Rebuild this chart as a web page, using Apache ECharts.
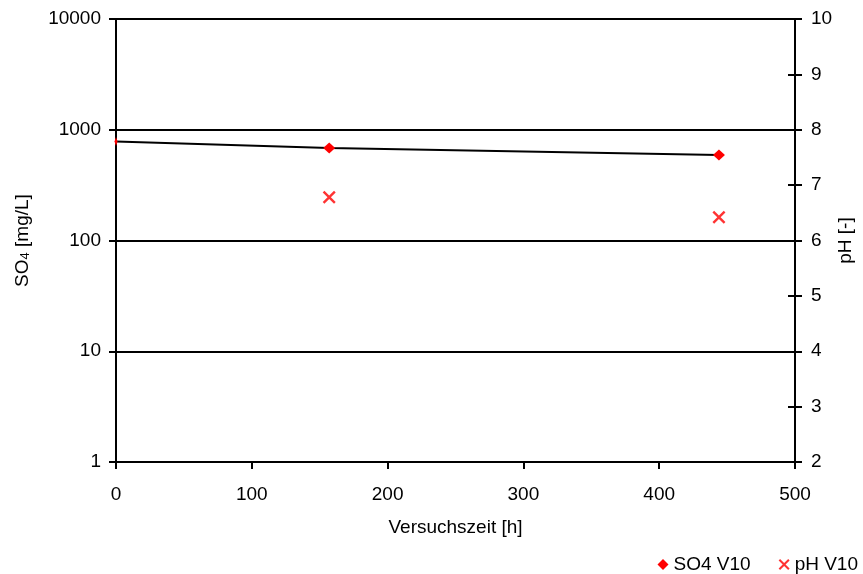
<!DOCTYPE html>
<html>
<head>
<meta charset="utf-8">
<script src="https://cdn.jsdelivr.net/npm/echarts@6/dist/echarts.min.js"></script>
<style>html,body{margin:0;padding:0;background:#fff}#c{width:863px;height:574px}</style>
</head>
<body>
<div id="c"></div>
<script>
// Data
const so4Time = [0, 157, 444];          // Versuchszeit [h]
const so4Values = [785, 684, 592];      // SO4 [mg/L]
const phTime = [157, 444];
const phValues = [6.78, 6.42];          // pH [-]
const xTicks = [0, 100, 200, 300, 400, 500];
const leftTicks = [1, 10, 100, 1000, 10000];
const rightTicks = [2, 3, 4, 5, 6, 7, 8, 9, 10];

const FONT = 'Liberation Sans, Arial, sans-serif';
const FS = 19;
const xPath = 'path://M0,1.3L1.3,0L5,3.7L8.7,0L10,1.3L6.3,5L10,8.7L8.7,10L5,6.3L1.3,10L0,8.7L3.7,5Z';

const chart = echarts.init(document.getElementById('c'), null, {renderer: 'canvas'});

const so4Data = so4Time.map((t, i) => {
  const item = {value: [t, so4Values[i]]};
  if (t === xTicks[0]) item.symbolSize = [3, 9]; // marker partly hidden at axis
  return item;
});

const option = {
  animation: false,
  backgroundColor: '#fff',
  textStyle: {fontFamily: FONT, color: '#000'},
  grid: {left: 116, right: 68, top: 19, bottom: 112, containLabel: false, outerBoundsMode: 'none'},
  legend: {
    right: 0, bottom: -5,
    itemWidth: 11, itemHeight: 11, itemGap: 28,
    textStyle: {fontFamily: FONT, fontSize: FS, color: '#000'},
    data: [
      {name: 'SO4 V10', icon: 'diamond', itemStyle: {color: '#ff0000'}},
      {name: 'pH V10', icon: xPath, itemStyle: {color: '#ff0000'}}
    ]
  },
  xAxis: {
    type: 'value', min: xTicks[0], max: xTicks[xTicks.length - 1], interval: 100,
    name: 'Versuchszeit [h]', nameLocation: 'middle', nameGap: 56,
    nameTextStyle: {fontFamily: FONT, fontSize: FS, color: '#000'},
    axisLine: {show: true, onZero: false, lineStyle: {color: '#000', width: 2}},
    axisTick: {show: true, length: 7, lineStyle: {color: '#000', width: 2}},
    axisLabel: {fontFamily: FONT, fontSize: FS, color: '#000', margin: 23},
    splitLine: {show: false}
  },
  yAxis: [
    {
      type: 'log', logBase: 10, min: leftTicks[0], max: leftTicks[leftTicks.length - 1],
      position: 'left',
      name: '{a|SO}{b|4}{a| [mg/L]}', nameLocation: 'middle', nameGap: 84, nameRotate: 90,
      nameMoveOverlap: false,
      nameTextStyle: {
        fontFamily: FONT, fontSize: FS, color: '#000',
        rich: {
          a: {fontFamily: FONT, fontSize: FS, color: '#000'},
          b: {fontFamily: FONT, fontSize: 13, color: '#000', padding: [6, 0, 0, 0]}
        }
      },
      axisLine: {show: true, lineStyle: {color: '#000', width: 2}},
      axisTick: {show: true, length: 7, lineStyle: {color: '#000', width: 2}},
      axisLabel: {fontFamily: FONT, fontSize: FS, color: '#000', margin: 15,
                  formatter: v => String(Math.round(v))},
      splitLine: {show: true, lineStyle: {color: '#000', width: 2}}
    },
    {
      type: 'log', logBase: 10, min: leftTicks[0], max: leftTicks[leftTicks.length - 1],
      position: 'left', offset: 0,
      axisLine: {show: false},
      axisTick: {show: true, inside: true, length: 7, lineStyle: {color: '#000', width: 2}},
      axisLabel: {show: false},
      splitLine: {show: false}
    },
    {
      type: 'value', min: rightTicks[0], max: rightTicks[rightTicks.length - 1], interval: 1,
      position: 'right',
      name: 'pH [-]', nameLocation: 'middle', nameGap: 41, nameRotate: 90,
      nameMoveOverlap: false,
      nameTextStyle: {fontFamily: FONT, fontSize: FS, color: '#000'},
      axisLine: {show: true, lineStyle: {color: '#000', width: 2}},
      axisTick: {show: true, length: 7, lineStyle: {color: '#000', width: 2}},
      axisLabel: {fontFamily: FONT, fontSize: FS, color: '#000', margin: 16},
      splitLine: {show: false}
    },
    {
      type: 'value', min: rightTicks[0], max: rightTicks[rightTicks.length - 1], interval: 1,
      position: 'right', offset: 0,
      axisLine: {show: false},
      axisTick: {show: true, inside: true, length: 7, lineStyle: {color: '#000', width: 2}},
      axisLabel: {show: false},
      splitLine: {show: false}
    }
  ],
  series: [
    {
      name: 'SO4 V10', type: 'line', yAxisIndex: 0,
      data: so4Data,
      symbol: 'diamond', symbolSize: [12, 11],
      itemStyle: {color: '#ff0000'},
      lineStyle: {color: '#000', width: 2},
      z: 3
    },
    {
      name: 'pH V10', type: 'scatter', yAxisIndex: 2,
      data: phTime.map((t, i) => [t, phValues[i]]),
      symbol: xPath, symbolSize: 13,
      itemStyle: {color: '#ff0000'},
      z: 3
    }
  ]
};
chart.setOption(option);
</script>
</body>
</html>
